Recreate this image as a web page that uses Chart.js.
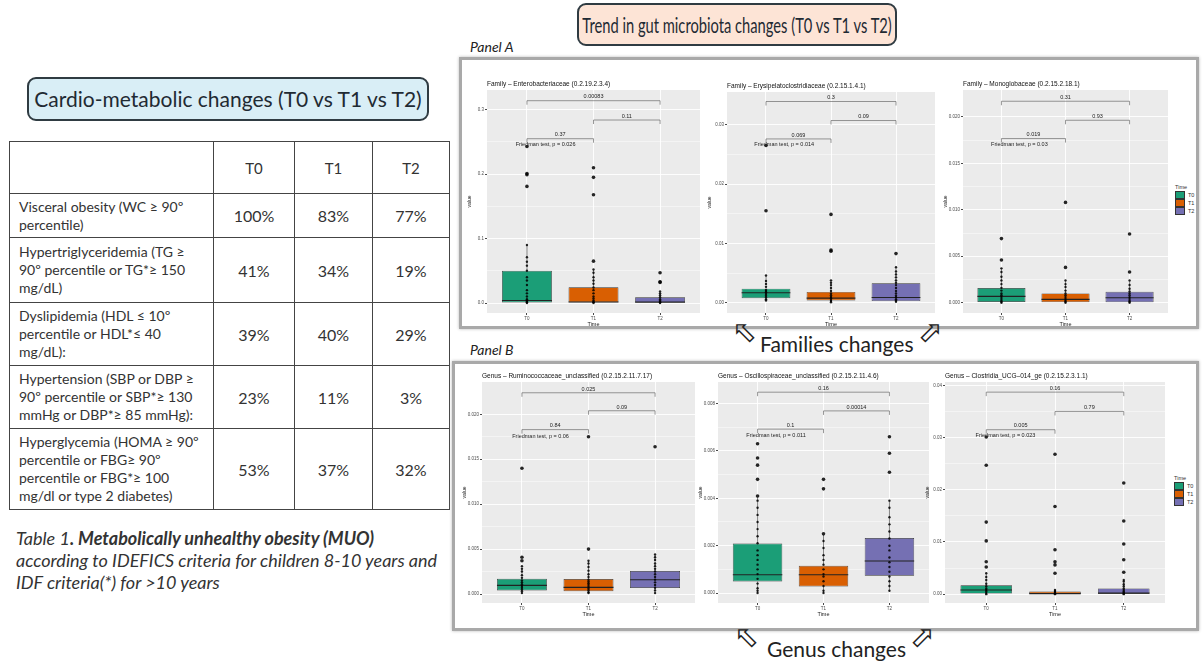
<!DOCTYPE html>
<html>
<head>
<meta charset="utf-8">
<script src="https://cdn.jsdelivr.net/npm/chart.js@4.4.0/dist/chart.umd.min.js"></script>
<style>
  body { margin:0; width:1203px; height:662px; background:#fff; position:relative; overflow:hidden; font-family:Lato, "Open Sans", sans-serif; color:#333; }
  .abs { position:absolute; }
  .tbox { position:absolute; border:2px solid #2f3b42; border-radius:9px; text-align:center; font-size:21px; color:#1f2a33; box-sizing:border-box; white-space:nowrap; }
  .frame { position:absolute; border:3px solid #a9a9a9; box-shadow:0 0 3px #bbb; background:#fff; box-sizing:border-box; }
  .plabel { position:absolute; font-style:italic; font-size:14px; color:#222; }
  .caption { position:absolute; font-size:21px; color:#222; white-space:nowrap; }
  .arrow { position:absolute; width:30px; height:30px; text-align:center; font-family:"DejaVu Sans"; font-size:30px; color:#222; line-height:30px; }
  table { position:absolute; left:9px; top:141px; border-collapse:collapse; color:#333; }
  td { border:1.3px solid #444; padding:0; }
  td.lab { font-size:14px; line-height:18px; padding-left:9px; }
  td.val { font-size:16px; text-align:center; }
  td.head { font-size:15px; text-align:center; }
  .tcap { position:absolute; left:16px; top:527px; font-size:18px; font-style:italic; line-height:22px; color:#333; white-space:nowrap; }
  .legend { position:absolute; font-family:"Liberation Sans", Arial; font-size:5.5px; color:#333; }
  .legend div { height:8px; display:flex; align-items:center; }
  .legend span.sw { display:inline-block; width:8px; height:6px; margin-right:3px; border:0.5px solid #333; }
</style>
</head>
<body>

<div class="tbox" style="left:27px;top:77px;width:402px;height:44px;line-height:40px;background:#d9eef6;">Cardio-metabolic changes (T0 vs T1 vs T2)</div>

<table>
  <tr style="height:52px"><td style="width:203px"></td><td class="head" style="width:80px">T0</td><td class="head" style="width:77px">T1</td><td class="head" style="width:76px">T2</td></tr>
  <tr style="height:44px"><td class="lab">Visceral obesity (WC ≥ 90º<br>percentile)</td><td class="val">100%</td><td class="val">83%</td><td class="val">77%</td></tr>
  <tr style="height:65px"><td class="lab">Hypertriglyceridemia (TG ≥<br>90º percentile or TG*≥ 150<br>mg/dL)</td><td class="val">41%</td><td class="val">34%</td><td class="val">19%</td></tr>
  <tr style="height:63px"><td class="lab">Dyslipidemia (HDL ≤ 10º<br>percentile or HDL*≤ 40<br>mg/dL):</td><td class="val">39%</td><td class="val">40%</td><td class="val">29%</td></tr>
  <tr style="height:63px"><td class="lab">Hypertension (SBP or DBP ≥<br>90º percentile or SBP*≥ 130<br>mmHg or DBP*≥ 85 mmHg):</td><td class="val">23%</td><td class="val">11%</td><td class="val">3%</td></tr>
  <tr style="height:81px"><td class="lab">Hyperglycemia (HOMA ≥ 90º<br>percentile or FBG≥ 90º<br>percentile or FBG*≥ 100<br>mg/dl or type 2 diabetes)</td><td class="val">53%</td><td class="val">37%</td><td class="val">32%</td></tr>
</table>

<div class="tcap">Table 1<b>. Metabolically unhealthy obesity (MUO)</b><br>according to IDEFICS criteria for children 8-10 years and<br>IDF criteria(*) for &gt;10 years</div>

<div class="tbox" style="left:577px;top:3px;width:320px;height:43px;line-height:39px;background:#fde4d6;font-size:21px;"><span style="display:inline-block;transform:scaleX(0.7);transform-origin:center;margin:0 -70px;">Trend in gut microbiota changes (T0 vs T1 vs T2)</span></div>

<div class="plabel" style="left:470px;top:38px;">Panel A</div>
<div class="frame" style="left:459px;top:57px;width:740px;height:272px;"></div>
<div class="arrow" style="left:730px;top:318px;transform:rotate(-45deg);">⇧</div>
<div class="caption" style="left:760px;top:331px;">Families changes</div>
<div class="arrow" style="left:915px;top:318px;transform:rotate(45deg);">⇧</div>

<div class="plabel" style="left:470px;top:341px;">Panel B</div>
<div class="frame" style="left:452px;top:361px;width:747px;height:270px;"></div>
<div class="arrow" style="left:732px;top:623px;transform:rotate(-45deg);">⇧</div>
<div class="caption" style="left:767px;top:636px;">Genus changes</div>
<div class="arrow" style="left:907px;top:623px;transform:rotate(45deg);">⇧</div>

<div class="legend" style="left:1175px;top:183px;"><div>Time</div><div><span class="sw" style="background:#1b9e77"></span>T0</div><div><span class="sw" style="background:#d95f02"></span>T1</div><div><span class="sw" style="background:#7570b3"></span>T2</div></div>
<div class="legend" style="left:1174px;top:474px;"><div>Time</div><div><span class="sw" style="background:#1b9e77"></span>T0</div><div><span class="sw" style="background:#d95f02"></span>T1</div><div><span class="sw" style="background:#7570b3"></span>T2</div></div>

<script>
const groups = ['T0', 'T1', 'T2'];
const groupColors = ['#1b9e77', '#d95f02', '#7570b3'];
const pairs = [[0, 1], [1, 2], [0, 2]];

// each box: [lower whisker, q1, median, q3, upper whisker]
const enteroTitle = 'Family – Enterobacteriaceae (0.2.19.2.3.4)';
const enteroBox = [[0, 0.0008, 0.004, 0.05, 0.09], [0, 0.001, 0.0016, 0.0245, 0.052], [0, 0.0005, 0.0015, 0.0088, 0.018]];
const enteroPoints = [
  [0, 0.001, 0.002, 0.003, 0.004, 0.006, 0.01, 0.015, 0.02, 0.028, 0.035, 0.04, 0.05, 0.058, 0.064, 0.071, 0.09, 0.181, 0.199, 0.201, 0.243],
  [0, 0.001, 0.002, 0.004, 0.007, 0.01, 0.015, 0.02, 0.024, 0.03, 0.035, 0.04, 0.047, 0.052, 0.065, 0.168, 0.195, 0.21],
  [0, 0.001, 0.002, 0.004, 0.006, 0.009, 0.012, 0.015, 0.018, 0.032, 0.033, 0.047]
];
const enteroRange = [-0.0155, 0.3306];
const enteroTicks = [0, 0.1, 0.2, 0.3];
const enteroTickLabels = ['0.0', '0.1', '0.2', '0.3'];
const enteroBracketY = [0.255, 0.284, 0.314];
const enteroPvals = ['0.37', '0.11', '0.00083'];
const enteroFriedman = ['Friedman test, p = 0.026', 0.246];

const erysiTitle = 'Family – Erysipelatoclostridiaceae (0.2.15.1.4.1)';
const erysiBox = [[0.0004, 0.0008, 0.0017, 0.0024, 0.0046], [0.0001, 0.0004, 0.0008, 0.00185, 0.0038], [0.0002, 0.0003, 0.0009, 0.0033, 0.006]];
const erysiPoints = [
  [0.0004, 0.0006, 0.0009, 0.0012, 0.0015, 0.0018, 0.002, 0.0022, 0.0027, 0.0032, 0.0037, 0.0046, 0.0155, 0.0265],
  [0.0001, 0.0003, 0.0005, 0.0008, 0.001, 0.0013, 0.0016, 0.002, 0.0025, 0.003, 0.0034, 0.0038, 0.0087, 0.0089, 0.0149],
  [0.0002, 0.0004, 0.0006, 0.0009, 0.0012, 0.0016, 0.002, 0.0025, 0.003, 0.0034, 0.0038, 0.0043, 0.0048, 0.0053, 0.006, 0.0083]
];
const erysiRange = [-0.0017, 0.0355];
const erysiTicks = [0, 0.01, 0.02, 0.03];
const erysiTickLabels = ['0.00', '0.01', '0.02', '0.03'];
const erysiBracketY = [0.0276, 0.0307, 0.0339];
const erysiPvals = ['0.069', '0.09', '0.3'];
const erysiFriedman = ['Friedman test, p = 0.014', 0.0266];

const monoTitle = 'Family – Monoglobaceae (0.2.15.2.18.1)';
const monoBox = [[0, 0.00007, 0.00068, 0.00158, 0.0037], [0, 0, 0.00036, 0.001, 0.0024], [0, 0.00004, 0.00054, 0.00118, 0.0024]];
const monoPoints = [
  [0, 0.0001, 0.0002, 0.0004, 0.0006, 0.0008, 0.001, 0.0013, 0.0016, 0.002, 0.0024, 0.0028, 0.0033, 0.0037, 0.0046, 0.0069],
  [0, 0.0001, 0.0002, 0.0004, 0.0006, 0.0008, 0.001, 0.0013, 0.0017, 0.002, 0.0024, 0.0038, 0.0108],
  [0, 0.0001, 0.0002, 0.0004, 0.0006, 0.0008, 0.001, 0.0012, 0.0015, 0.0019, 0.0024, 0.0033, 0.0074]
];
const monoRange = [-0.00111, 0.0229];
const monoTicks = [0, 0.005, 0.01, 0.015, 0.02];
const monoTickLabels = ['0.000', '0.005', '0.010', '0.015', '0.020'];
const monoBracketY = [0.01767, 0.01964, 0.02169];
const monoPvals = ['0.019', '0.93', '0.31'];
const monoFriedman = ['Friedman test, p = 0.03', 0.017];

const rumiTitle = 'Genus – Ruminococcaceae_unclassified (0.2.15.2.11.7.17)';
const rumiBox = [[0.0001, 0.0004, 0.00096, 0.0017, 0.0031], [0.0001, 0.0003, 0.00074, 0.00166, 0.0037], [0.0001, 0.00067, 0.00159, 0.00255, 0.0044]];
const rumiPoints = [
  [0.0001, 0.0003, 0.0005, 0.0007, 0.0009, 0.0011, 0.0013, 0.0015, 0.0018, 0.0021, 0.0025, 0.0028, 0.0031, 0.0037, 0.0041, 0.014],
  [0.0001, 0.0002, 0.0004, 0.0006, 0.0008, 0.001, 0.0012, 0.0014, 0.0016, 0.0019, 0.0022, 0.0026, 0.003, 0.0034, 0.0037, 0.005, 0.0175],
  [0.0001, 0.0004, 0.0007, 0.001, 0.0013, 0.0016, 0.0019, 0.0022, 0.0025, 0.0028, 0.0031, 0.0034, 0.0038, 0.0041, 0.0044, 0.0164]
];
const rumiRange = [-0.001, 0.0236];
const rumiTicks = [0, 0.005, 0.01, 0.015, 0.02];
const rumiTickLabels = ['0.000', '0.005', '0.010', '0.015', '0.020'];
const rumiBracketY = [0.0183, 0.0204, 0.0224];
const rumiPvals = ['0.84', '0.09', '0.025'];
const rumiFriedman = ['Friedman test, p = 0.06', 0.01756];

const oscilTitle = 'Genus – Oscillospiraceae_unclassified (0.2.15.2.11.4.6)';
const oscilBox = [[0, 0.00049, 0.00077, 0.00209, 0.00405], [0, 0.00028, 0.00077, 0.00115, 0.00246], [0.00007, 0.00073, 0.00135, 0.00232, 0.00393]];
const oscilPoints = [
  [0, 0.0001, 0.0002, 0.0004, 0.0006, 0.0008, 0.001, 0.0012, 0.0014, 0.0016, 0.0018, 0.0021, 0.0024, 0.0027, 0.003, 0.0033, 0.0036, 0.0039, 0.0041, 0.0048, 0.0054, 0.0057, 0.0063],
  [0, 0.0001, 0.0003, 0.0005, 0.0007, 0.0008, 0.001, 0.0012, 0.0014, 0.0016, 0.0019, 0.0022, 0.0025, 0.0044, 0.0048],
  [0.0001, 0.0003, 0.0005, 0.0007, 0.0009, 0.0011, 0.0013, 0.0015, 0.0018, 0.002, 0.0023, 0.0026, 0.0029, 0.0032, 0.0036, 0.0039, 0.0051, 0.0059, 0.0066]
];
const oscilRange = [-0.00042, 0.00891];
const oscilTicks = [0, 0.002, 0.004, 0.006, 0.008];
const oscilTickLabels = ['0.000', '0.002', '0.004', '0.006', '0.008'];
const oscilBracketY = [0.00692, 0.00769, 0.00848];
const oscilPvals = ['0.1', '0.00014', '0.16'];
const oscilFriedman = ['Friedman test, p = 0.011', 0.00667];

const clostTitle = 'Genus – Clostridia_UCG–014_ge (0.2.15.2.3.1.1)';
const clostBox = [[0, 0.0001, 0.0008, 0.0017, 0.004], [0, 0, 0.0001, 0.0005, 0.0008], [0, 0, 0.0002, 0.0011, 0.0027]];
const clostPoints = [
  [0, 0.0002, 0.0005, 0.0008, 0.0011, 0.0015, 0.002, 0.0027, 0.0033, 0.004, 0.0052, 0.0062, 0.0102, 0.0138, 0.0247, 0.0301],
  [0, 0.0001, 0.0002, 0.0004, 0.0006, 0.0008, 0.004, 0.0056, 0.0062, 0.0085, 0.0168, 0.0268],
  [0, 0.0001, 0.0003, 0.0005, 0.0008, 0.0011, 0.0015, 0.0019, 0.0024, 0.0027, 0.0042, 0.0066, 0.0096, 0.014, 0.0213]
];
const clostRange = [-0.0017, 0.04064];
const clostTicks = [0, 0.01, 0.02, 0.03, 0.04];
const clostTickLabels = ['0.00', '0.01', '0.02', '0.03', '0.04'];
const clostBracketY = [0.0315, 0.035, 0.0387];
const clostPvals = ['0.005', '0.79', '0.16'];
const clostFriedman = ['Friedman test, p = 0.023', 0.0304];

const specs = [
  { title: enteroTitle, box: enteroBox, pts: enteroPoints, range: enteroRange, ticks: enteroTicks, tickLabels: enteroTickLabels, brY: enteroBracketY, brLab: enteroPvals, fried: enteroFriedman },
  { title: erysiTitle, box: erysiBox, pts: erysiPoints, range: erysiRange, ticks: erysiTicks, tickLabels: erysiTickLabels, brY: erysiBracketY, brLab: erysiPvals, fried: erysiFriedman },
  { title: monoTitle, box: monoBox, pts: monoPoints, range: monoRange, ticks: monoTicks, tickLabels: monoTickLabels, brY: monoBracketY, brLab: monoPvals, fried: monoFriedman },
  { title: rumiTitle, box: rumiBox, pts: rumiPoints, range: rumiRange, ticks: rumiTicks, tickLabels: rumiTickLabels, brY: rumiBracketY, brLab: rumiPvals, fried: rumiFriedman },
  { title: oscilTitle, box: oscilBox, pts: oscilPoints, range: oscilRange, ticks: oscilTicks, tickLabels: oscilTickLabels, brY: oscilBracketY, brLab: oscilPvals, fried: oscilFriedman },
  { title: clostTitle, box: clostBox, pts: clostPoints, range: clostRange, ticks: clostTicks, tickLabels: clostTickLabels, brY: clostBracketY, brLab: clostPvals, fried: clostFriedman }
];

// plot area on the page: left, top, right, bottom
const plotRects = [
  [487, 90, 702, 313], [727, 92, 937, 313], [963, 90, 1170, 313],
  [482, 382, 697, 603], [718, 382, 931, 603], [945, 382, 1167, 603]
];

const ggFont = '"Liberation Sans", Arial, sans-serif';

function boxExtras(spec) {
  return {
    id: 'boxExtras',
    beforeDraw(chart) {
      const { ctx, chartArea: a } = chart;
      ctx.save();
      ctx.fillStyle = '#ebebeb';
      ctx.fillRect(a.left, a.top, a.width, a.height);
      ctx.restore();
    },
    beforeDatasetsDraw(chart) {
      // whiskers
      const { ctx, scales: { x, y } } = chart;
      ctx.save();
      ctx.strokeStyle = '#333';
      ctx.lineWidth = 0.6;
      spec.box.forEach((b, i) => {
        const px = x.getPixelForValue(i);
        ctx.beginPath();
        ctx.moveTo(px, y.getPixelForValue(b[4]));
        ctx.lineTo(px, y.getPixelForValue(b[3]));
        ctx.moveTo(px, y.getPixelForValue(b[1]));
        ctx.lineTo(px, y.getPixelForValue(b[0]));
        ctx.stroke();
      });
      ctx.restore();
    },
    afterDatasetDraw(chart, args) {
      if (args.index !== 1) return;
      // medians
      const { ctx, scales: { y } } = chart;
      const bars = chart.getDatasetMeta(1).data;
      ctx.save();
      ctx.strokeStyle = '#222';
      ctx.lineWidth = 1.1;
      spec.box.forEach((b, i) => {
        const el = bars[i];
        const py = y.getPixelForValue(b[2]);
        ctx.beginPath();
        ctx.moveTo(el.x - el.width / 2, py);
        ctx.lineTo(el.x + el.width / 2, py);
        ctx.stroke();
      });
      ctx.restore();
    },
    afterDatasetsDraw(chart) {
      const { ctx, scales: { x, y } } = chart;
      ctx.save();
      ctx.strokeStyle = '#555';
      ctx.lineWidth = 0.6;
      ctx.fillStyle = '#222';
      ctx.font = '5.5px ' + ggFont;
      ctx.textAlign = 'center';
      ctx.textBaseline = 'bottom';
      pairs.forEach((p, k) => {
        const x1 = x.getPixelForValue(p[0]);
        const x2 = x.getPixelForValue(p[1]);
        const py = y.getPixelForValue(spec.brY[k]);
        ctx.beginPath();
        ctx.moveTo(x1, py + 4);
        ctx.lineTo(x1, py);
        ctx.lineTo(x2, py);
        ctx.lineTo(x2, py + 4);
        ctx.stroke();
        ctx.fillText(spec.brLab[k], (x1 + x2) / 2, py - 1);
      });
      ctx.textBaseline = 'middle';
      ctx.fillText(spec.fried[0], x.getPixelForValue(0.28), y.getPixelForValue(spec.fried[1]));
      // panel title
      ctx.textAlign = 'left';
      ctx.textBaseline = 'bottom';
      ctx.font = '6.5px ' + ggFont;
      ctx.fillStyle = '#111';
      ctx.fillText(spec.title, chart.chartArea.left, chart.chartArea.top - 3);
      ctx.restore();
    }
  };
}

function makeChart(spec, rect) {
  const [L, T, R, B] = rect;
  const yW = 20, padTop = 14, padRight = 2, xH = 15;
  const wrap = document.createElement('div');
  wrap.className = 'abs';
  wrap.style.left = (L - yW) + 'px';
  wrap.style.top = (T - padTop) + 'px';
  wrap.style.width = (R - L + yW + padRight) + 'px';
  wrap.style.height = (B - T + padTop + xH) + 'px';
  const cv = document.createElement('canvas');
  wrap.appendChild(cv);
  document.body.appendChild(wrap);

  // major ticks with minor ticks between them
  const allTicks = [];
  spec.ticks.forEach((t, i) => {
    allTicks.push(t);
    if (i < spec.ticks.length - 1) allTicks.push((t + spec.ticks[i + 1]) / 2);
  });

  // outliers (beyond the whiskers) drawn a bit larger, as ggplot does
  const pointData = [];
  const pointSize = [];
  spec.pts.forEach((vals, i) => vals.forEach(v => {
    pointData.push({ x: i, y: v });
    pointSize.push(v > spec.box[i][4] ? 1.8 : 1.2);
  }));

  new Chart(cv, {
    type: 'bar',
    data: {
      datasets: [
        {
          type: 'scatter',
          data: pointData,
          pointRadius: pointSize,
          pointBackgroundColor: 'rgba(0,0,0,0.85)',
          pointBorderWidth: 0,
          order: 0
        },
        {
          type: 'bar',
          data: spec.box.map((b, i) => ({ x: i, y: [b[1], b[3]] })),
          backgroundColor: groupColors,
          borderColor: '#333',
          borderWidth: 0.7,
          borderSkipped: false,
          categoryPercentage: 1,
          barPercentage: 0.75,
          order: 1
        }
      ]
    },
    options: {
      responsive: true,
      maintainAspectRatio: false,
      animation: false,
      events: [],
      layout: { padding: { top: padTop, right: padRight, left: 0, bottom: 0 } },
      plugins: { legend: { display: false }, tooltip: { enabled: false } },
      scales: {
        x: {
          type: 'linear',
          min: -0.6,
          max: 2.6,
          offset: false,
          afterBuildTicks: s => { s.ticks = groups.map((g, i) => ({ value: i })); },
          afterFit: s => { s.height = xH; },
          ticks: { callback: v => groups[v], font: { size: 4.5, family: ggFont }, color: '#4d4d4d', padding: 1, maxRotation: 0, autoSkip: false },
          grid: { color: '#fff', lineWidth: 0.9, offset: false, tickLength: 2, tickColor: '#333' },
          border: { display: false },
          title: { display: true, text: 'Time', font: { size: 5.5, family: ggFont }, color: '#222', padding: 0 }
        },
        y: {
          min: spec.range[0],
          max: spec.range[1],
          afterBuildTicks: s => { s.ticks = allTicks.map(v => ({ value: v })); },
          afterFit: s => { s.width = yW; },
          ticks: { callback: (v, i) => (i % 2 ? '' : spec.tickLabels[i / 2]), font: { size: 4.5, family: ggFont }, color: '#4d4d4d', padding: 1, autoSkip: false },
          grid: {
            color: '#fff',
            lineWidth: c => (c.index % 2 ? 0.45 : 0.9),
            tickLength: 2,
            tickColor: c => (c.index % 2 ? 'rgba(0,0,0,0)' : '#333')
          },
          border: { display: false },
          title: { display: true, text: 'value', font: { size: 5, family: ggFont }, color: '#222', padding: 0 }
        }
      }
    },
    plugins: [boxExtras(spec)]
  });
}

specs.forEach((s, i) => makeChart(s, plotRects[i]));
</script>
</body>
</html>
